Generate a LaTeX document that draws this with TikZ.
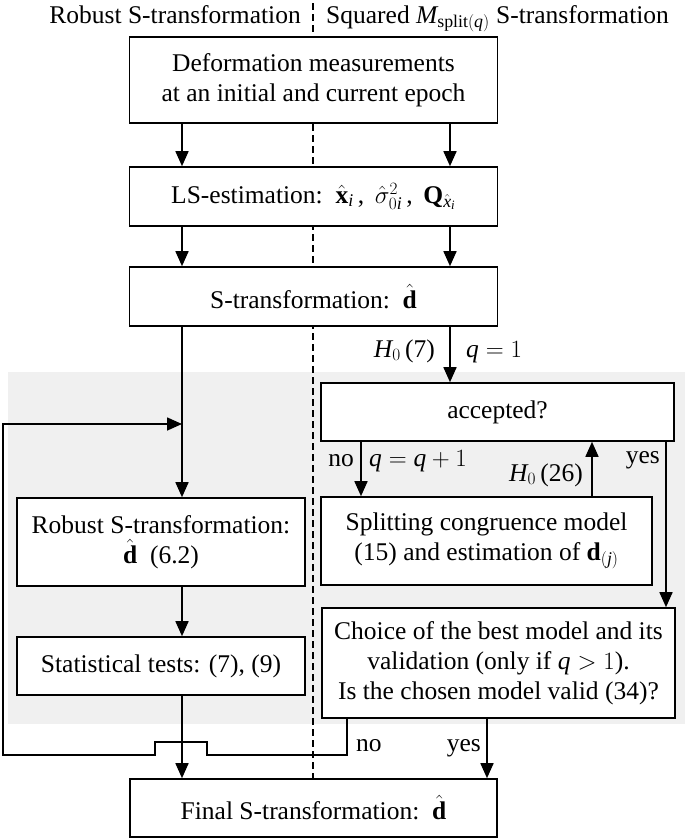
\documentclass[tikz,border=0pt]{standalone}
\usepackage{fontspec}
\setmainfont{Liberation Serif}
\usetikzlibrary{arrows.meta}
\newcommand{\bhat}[1]{\hat{\mathbf{#1}}}
\begin{document}
\begin{tikzpicture}[x=1pt,y=-1pt,
  every node/.style={font=\fontsize{25.5}{30}\selectfont},
  box/.style={draw,line width=1.6pt,fill=white,align=center,inner sep=0pt},
  lbl/.style={inner sep=0pt},
  arr/.style={line width=1.6pt,-{Triangle[length=15pt,width=13pt]}},
  ln/.style={line width=1.6pt}]
\useasboundingbox (0,0) rectangle (685,839);
\fill[black!6] (8,372) rectangle (685,724);
\draw[line width=1.2pt,dash pattern=on 7pt off 4pt] (313,3) -- (313,779);
% headers
\node[lbl,anchor=base east] (h1) at (301,23) {Robust S-transformation};
\node[lbl,anchor=base west] (h2) at (326,23) {Squared $\mathit{M}_{\mathrm{split}(\mathit{q})}$ S-transformation};
% boxes
\node[box,minimum width=368pt,minimum height=86pt] (b1) at (313.5,80) {Deformation measurements\\at an initial and current epoch};
\node[box,minimum width=368pt,minimum height=59pt] (ls) at (313.5,196.5) {LS-estimation:\, $\bhat{x}_{\mathit{i}}$\,,\, $\hat{\sigma}^2_{0\mathit{i}}$\,,\, $\mathbf{Q}_{\hat{\mathit{x}}_{\mathit{i}}}$};
\node[box,minimum width=368pt,minimum height=59pt] (st) at (313.5,296.5) {S-transformation:\, $\bhat{d}$};
\node[box,minimum width=353pt,minimum height=58pt] (acc) at (497.5,412) {accepted?};
\node[box,minimum width=331pt,minimum height=88pt] (spl) at (486.5,541) {Splitting congruence model\\(15) and estimation of $\mathbf{d}_{(\mathit{j})}$};
\node[box,minimum width=288pt,minimum height=88pt] (rob) at (161,542) {Robust S-transformation:\\$\bhat{d}$~~(6.2)};
\node[box,minimum width=288pt,minimum height=58pt] (sta) at (161,666) {Statistical tests: (7), (9)};
\node[box,minimum width=353pt,minimum height=110pt] (cho) at (498.5,663) {Choice of the best model and its\\validation (only if $\mathit{q}>1$).\\Is the chosen model valid (34)?};
\node[box,minimum width=367pt,minimum height=58pt] (fin) at (313.5,808) {Final S-transformation:\, $\bhat{d}$};
% x positions
\coordinate (lx) at (182,0);
\coordinate (rx) at (450,0);
\coordinate (nox) at (361,0);
\coordinate (upx) at (592,0);
\coordinate (yesx) at (666,0);
\coordinate (fbx) at (347,0);
\coordinate (ybx) at (487,0);
\coordinate (fbend) at (182,424);
% arrows
\draw[arr] (b1.south -| lx) -- (ls.north -| lx);
\draw[arr] (b1.south -| rx) -- (ls.north -| rx);
\draw[arr] (ls.south -| lx) -- (st.north -| lx);
\draw[arr] (ls.south -| rx) -- (st.north -| rx);
\draw[arr] (st.south -| lx) -- (rob.north -| lx);
\draw[arr] (st.south -| rx) -- (acc.north -| rx);
\draw[arr] (acc.south -| nox) -- (spl.north -| nox);
\draw[arr] (spl.north -| upx) -- (acc.south -| upx);
\draw[arr] (acc.south -| yesx) -- (cho.north -| yesx);
\draw[arr] (rob.south -| lx) -- (sta.north -| lx);
\draw[arr] (sta.south -| lx) -- (fin.north -| lx);
\draw[arr] (cho.south -| ybx) -- (fin.north -| ybx);
\draw[arr] (cho.south -| fbx) -- (347,755) -- (207,755) -- (207,742) -- (155,742) -- (155,755) -- (3,755) -- (3,424) -- (fbend);
% labels
\node[lbl,anchor=base east] (l1) at (435,357) {$\mathit{H}_0$\,(7)};
\node[lbl,anchor=base west] (l2) at (466,357) {$\mathit{q}=1$};
\node[lbl,anchor=base east] (l3) at (354,466) {no};
\node[lbl,anchor=base west] (l4) at (369,466) {$\mathit{q}=\mathit{q}+1$};
\node[lbl,anchor=base east] (l5) at (583,481) {$\mathit{H}_0$\,(26)};
\node[lbl,anchor=base east] (l6) at (660,463) {yes};
\node[lbl,anchor=base west] (l7) at (356,751) {no};
\node[lbl,anchor=base east] (l8) at (481,751) {yes};
\end{tikzpicture}
\end{document}
